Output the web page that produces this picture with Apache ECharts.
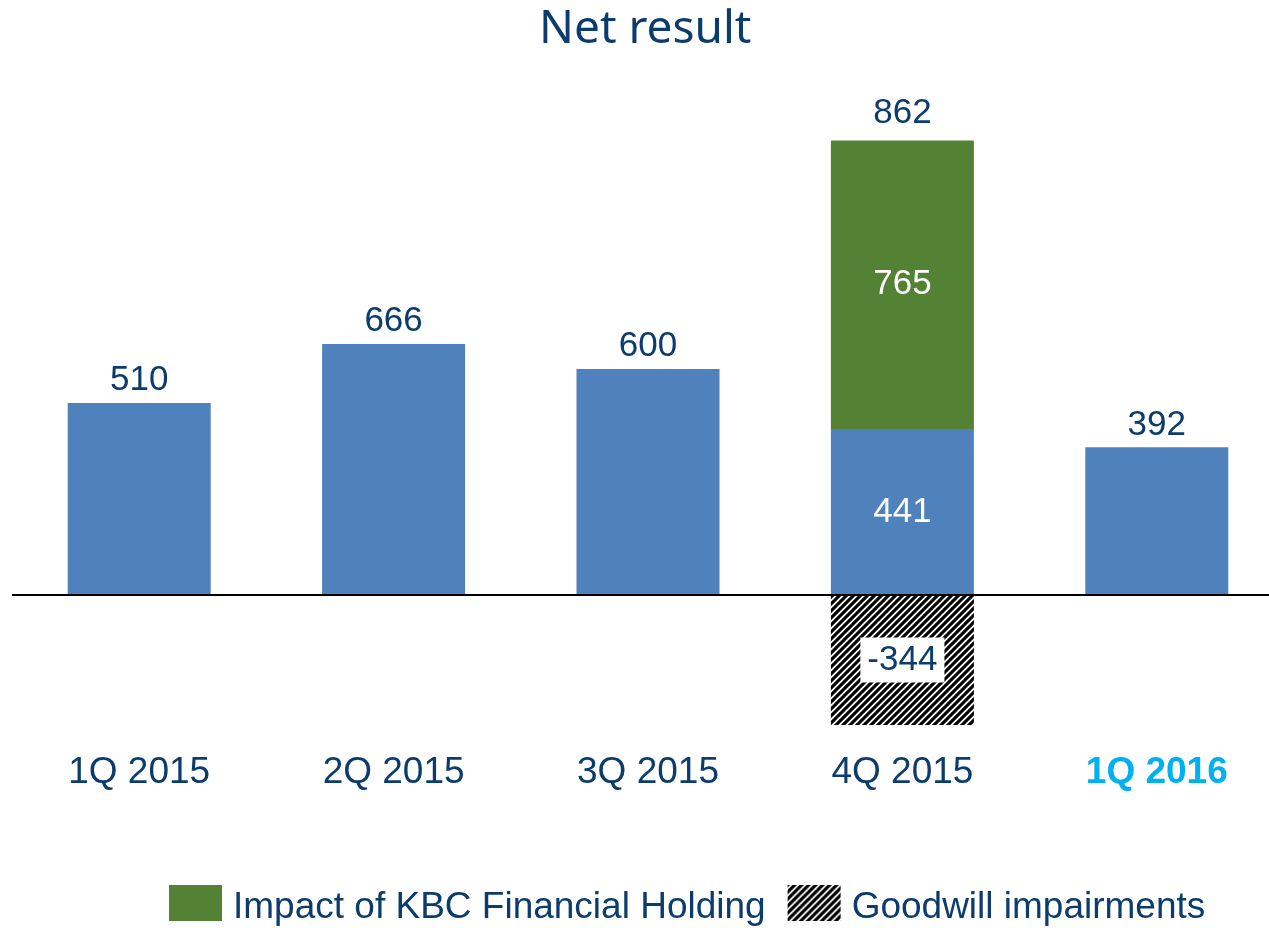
<!DOCTYPE html>
<html>
<head>
<meta charset="utf-8">
<script src="https://cdn.jsdelivr.net/npm/echarts@6/dist/echarts.min.js"></script>
<style>
  html, body { margin: 0; padding: 0; background: #fff; overflow: hidden; }
  /* a little wider than the window: the last bar's category slot runs off the right edge */
  #chart { width: 1284px; height: 928px; }
</style>
</head>
<body>
<div id="chart"></div>
<script>
// Net result per quarter, 4Q 2015 split into underlying / KBC holding impact / goodwill.
const quarters = ["1Q 2015", "2Q 2015", "3Q 2015", "4Q 2015", "1Q 2016"];
const baseResult = [510, 666, 600, 441, 392];
const kbcImpact = [null, null, null, 765, null];
const goodwill = [null, null, null, -344, null];
const netResult = [510, 666, 600, 862, 392];

const BLUE = "#4f81bd";
const GREEN = "#548235";
const INK = "#0c3c6e";
const HILITE = "#00b0f0";
const FONT = "'Liberation Sans', Arial, sans-serif";

// diagonal black/white hatch for the goodwill piece
function hatch() {
  const s = 7;
  const c = document.createElement("canvas");
  c.width = s; c.height = s;
  const g = c.getContext("2d");
  g.fillStyle = "#fff";
  g.fillRect(0, 0, s, s);
  g.strokeStyle = "#000";
  g.lineWidth = 3.2;
  g.beginPath();
  g.moveTo(-1, s + 1); g.lineTo(s + 1, -1);
  g.moveTo(-3, 3); g.lineTo(3, -3);
  g.moveTo(s - 3, s + 3); g.lineTo(s + 3, s - 3);
  g.stroke();
  return { image: c, repeat: "repeat" };
}

const whiteInside = { show: true, position: "inside", color: "#fff", fontSize: 35, fontFamily: FONT };
const topLabel = { show: true, position: "top", distance: 5, color: INK, fontSize: 35, fontFamily: FONT };

const chart = echarts.init(document.getElementById("chart"));
chart.setOption({
  animation: false,
  title: {
    text: "Net result", left: 534, top: 2,
    textStyle: { fontFamily: "'Noto Sans', sans-serif", fontWeight: "normal", fontSize: 46, color: INK },
  },
  legend: {
    left: 169, top: 885, padding: 0, itemWidth: 53, itemHeight: 36, itemGap: 22, icon: "rect",
    data: ["Impact of KBC Financial Holding", "Goodwill impairments"],
    formatter: (name) => "{t|" + name + "}",
    textStyle: {
      fontFamily: FONT, fontSize: 37, color: INK,
      rich: { t: { fontFamily: FONT, fontSize: 37, color: INK, padding: [10, 0, 0, 6] } },
    },
  },
  grid: { left: 12, right: 0, top: 105, height: 641 },
  xAxis: {
    type: "category", data: quarters,
    axisLine: { show: false }, axisTick: { show: false },
    axisLabel: {
      interval: 0, hideOverlap: false,
      margin: 8, fontFamily: FONT, fontSize: 37, color: INK,
      formatter: (v, i) => i === quarters.length - 1 ? "{hl|" + v + "}" : v,
      rich: { hl: { fontFamily: FONT, fontSize: 37, color: HILITE, fontWeight: "bold" } },
    },
  },
  yAxis: { type: "value", min: -400, max: 1300, show: false, splitLine: { show: false } },
  series: [
    {
      name: "Net result", type: "bar", stack: "q", barWidth: 143,
      itemStyle: { color: BLUE },
      data: baseResult.map((v, i) => ({
        value: v,
        label: kbcImpact[i] != null ? whiteInside : topLabel,
      })),
      markLine: {
        silent: true, symbol: "none", label: { show: false },
        lineStyle: { color: "#000", width: 2, type: "solid" },
        data: [{ yAxis: 0 }],
      },
    },
    {
      name: "Impact of KBC Financial Holding", type: "bar", stack: "q", barWidth: 143,
      itemStyle: { color: GREEN },
      label: whiteInside,
      data: kbcImpact,
      markPoint: {
        symbol: "circle", symbolSize: 0,
        label: { show: true, position: "top", distance: 10, color: INK, fontSize: 35, fontFamily: FONT },
        data: kbcImpact.map((v, i) => v == null ? null : {
          coord: [i, baseResult[i] + v], value: netResult[i],
        }).filter(Boolean),
      },
    },
    {
      name: "Goodwill impairments", type: "bar", stack: "q", barWidth: 143,
      itemStyle: { color: hatch() },
      label: {
        show: true, position: "inside", color: INK, fontSize: 35, fontFamily: FONT,
        backgroundColor: "#fff", padding: [5, 7], lineHeight: 35,
      },
      data: goodwill,
    },
  ],
});
</script>
</body>
</html>
